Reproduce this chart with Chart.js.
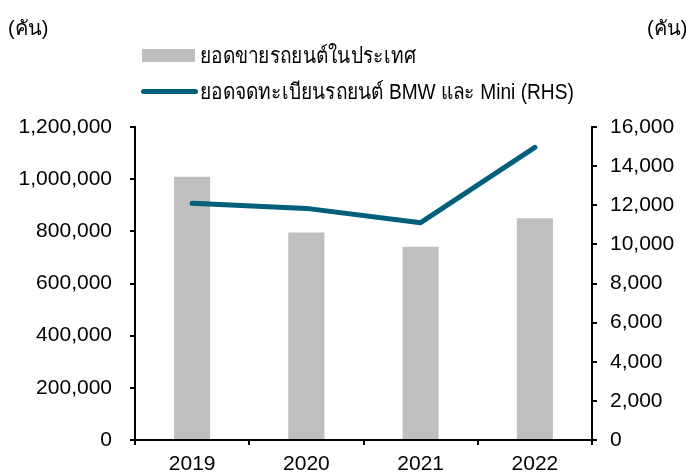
<!DOCTYPE html>
<html>
<head>
<meta charset="utf-8">
<script src="https://cdn.jsdelivr.net/npm/chart.js@4.4.1/dist/chart.umd.min.js"></script>
<style>
  html, body { margin: 0; padding: 0; background: #fff; }
  #wrap { position: relative; width: 686px; height: 474px; font-family: "Liberation Sans", Arial, "DejaVu Sans", sans-serif; color: #000; }
  canvas { position: absolute; left: 0; top: 0; }
  .unit { position: absolute; top: 14px; font-size: 20px; line-height: 28px; }
  .leg { position: absolute; left: 142px; height: 28px; display: flex; align-items: center; font-size: 22px; white-space: nowrap; }
  .leg .txt { display: inline-block; transform: scaleX(0.87); transform-origin: left center; }
  .swatch-bar { width: 53px; height: 13px; background: #bfbfbf; margin-right: 5px; }
  .swatch-line { width: 57px; height: 5px; border-radius: 3px; background: #00607c; margin-left: -1px; margin-right: 2px; }
</style>
</head>
<body>
<div id="wrap">
  <canvas id="chart" width="686" height="474"></canvas>
  <div class="unit" style="left:8px">(คัน)</div>
  <div class="unit" style="left:647px">(คัน)</div>
  <div class="leg" style="top:41px"><span class="swatch-bar"></span><span class="txt" id="lab0"></span></div>
  <div class="leg" style="top:77px"><span class="swatch-line"></span><span class="txt" id="lab1"></span></div>
</div>
<script>
// data
const years = ['2019', '2020', '2021', '2022'];
const domesticSales = [1009000, 796000, 741000, 850000];
const bmwMiniRegs = [12100, 11840, 11110, 14960];
const seriesNames = ['ยอดขายรถยนต์ในประเทศ', 'ยอดจดทะเบียนรถยนต์ BMW และ Mini (RHS)'];

document.getElementById('lab0').textContent = seriesNames[0];
document.getElementById('lab1').textContent = seriesNames[1];

const tickFont = { family: '"Liberation Sans", Arial, sans-serif', size: 21 };
const fmt = v => Number(v).toLocaleString('en-US');

new Chart(document.getElementById('chart'), {
  type: 'bar',
  data: {
    labels: years,
    datasets: [
      {
        type: 'line',
        label: seriesNames[1],
        data: bmwMiniRegs,
        yAxisID: 'y2',
        borderColor: '#00607c',
        borderWidth: 5,
        borderCapStyle: 'round',
        borderJoinStyle: 'round',
        pointRadius: 0,
        tension: 0,
        order: 0
      },
      {
        label: seriesNames[0],
        data: domesticSales,
        yAxisID: 'y',
        backgroundColor: '#bfbfbf',
        categoryPercentage: 1,
        barPercentage: 0.316,
        order: 1
      }
    ]
  },
  options: {
    responsive: false,
    animation: false,
    layout: { padding: { top: 127, left: 0, right: 0, bottom: 0 } },
    plugins: { legend: { display: false }, tooltip: { enabled: false } },
    scales: {
      x: {
        grid: { display: true, drawOnChartArea: false, drawTicks: true, tickLength: 5, color: '#000', lineWidth: 2, offset: true },
        border: { display: true, color: '#000', width: 2 },
        ticks: { color: '#000', font: tickFont, padding: 7, maxRotation: 0 },
        afterFit: s => { s.height = 34; }
      },
      y: {
        position: 'left',
        min: 0, max: 1200000,
        grid: { display: true, drawOnChartArea: false, drawTicks: true, tickLength: 5, color: '#000', lineWidth: 2 },
        border: { display: true, color: '#000', width: 2 },
        ticks: { stepSize: 200000, color: '#000', font: tickFont, padding: 18, callback: fmt },
        afterFit: s => { s.width = 135; }
      },
      y2: {
        position: 'right',
        min: 0, max: 16000,
        grid: { display: true, drawOnChartArea: false, drawTicks: true, tickLength: 5, color: '#000', lineWidth: 2 },
        border: { display: true, color: '#000', width: 2 },
        ticks: { stepSize: 2000, color: '#000', font: tickFont, padding: 13, callback: fmt },
        afterFit: s => { s.width = 94; }
      }
    }
  }
});
</script>
</body>
</html>
